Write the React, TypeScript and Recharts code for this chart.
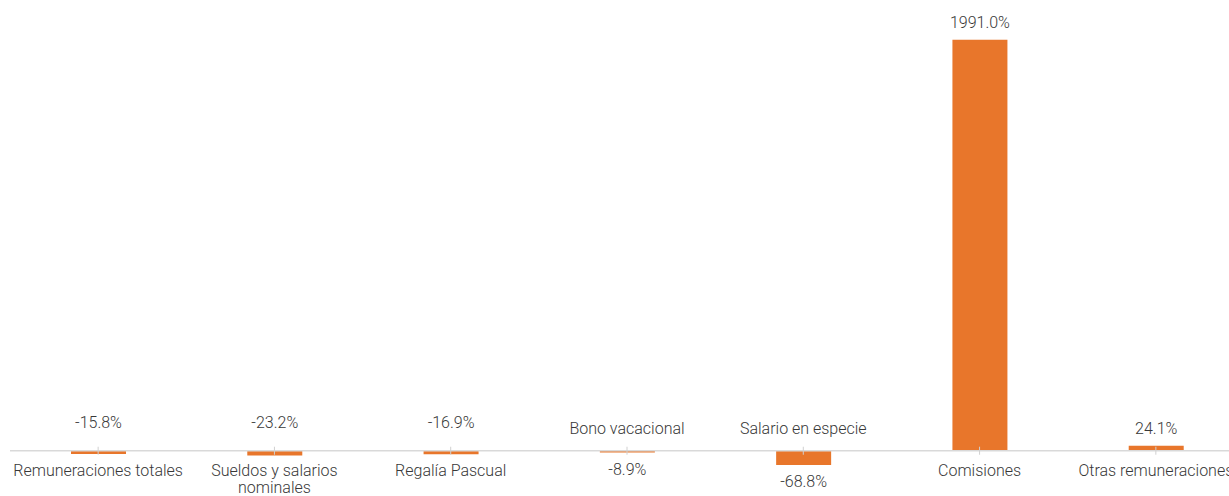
import { BarChart, Bar, XAxis, YAxis, ReferenceLine, LabelList } from 'recharts';

const categories = [
  'Remuneraciones totales',
  'Sueldos y salarios\nnominales',
  'Regalía Pascual',
  'Bono vacacional',
  'Salario en especie',
  'Comisiones',
  'Otras remuneraciones',
];
const variation = [-15.8, -23.2, -16.9, -8.9, -68.8, 1991.0, 24.1];

const data = categories.map((name, i) => ({ name, value: variation[i] }));

// layout constants (plot area)
const TOP = 38;
const BOTTOM = 492;
const Y_MIN = -200;
const Y_MAX = 2000;
const toY = (v: number) => TOP + ((Y_MAX - v) * (BOTTOM - TOP)) / (Y_MAX - Y_MIN);
const ZERO_Y = toY(0);

// which categories have their name drawn above the axis / value drawn below the bar
const nameAbove = new Set([3, 4]);
const valueBelow = new Set([3, 4]);

const TEXT = '#383838';
const FONT = 'Roboto, "Noto Sans", sans-serif';
const FS = 16;

function CategoryTick(props: any) {
  const { x, payload, index } = props;
  const lines = String(payload.value).split('\n');
  const above = nameAbove.has(index);
  return (
    <g>
      <line x1={x} x2={x} y1={ZERO_Y - 4} y2={ZERO_Y + 4} stroke="#d0d0d0" strokeWidth={1} />
      {lines.map((l, k) => (
        <text
          key={k}
          x={x}
          y={above ? ZERO_Y - 22 : ZERO_Y + 20 + k * 17}
          textAnchor="middle"
          dominantBaseline="central"
          fontFamily={FONT}
          fontWeight={300}
          fontSize={FS}
          fill={TEXT}
        >
          {l}
        </text>
      ))}
    </g>
  );
}

function ValueLabel(props: any) {
  const { x, width, value, index } = props;
  const v = Number(value);
  let y: number;
  if (v >= 0) y = toY(v) - 17;
  else if (valueBelow.has(index)) y = toY(v) + 17;
  else y = ZERO_Y - 28;
  return (
    <text
      x={x + width / 2}
      y={y}
      textAnchor="middle"
      dominantBaseline="central"
      fontFamily={FONT}
      fontWeight={300}
      fontSize={FS}
      fill={TEXT}
    >
      {v.toFixed(1) + '%'}
    </text>
  );
}

export default function App() {
  return (
    <div style={{ position: 'absolute', left: 0, top: 0, width: 1229, height: 496, overflow: 'hidden', background: '#fff' }}>
      <BarChart
        width={1250}
        height={496}
        data={data}
        margin={{ top: TOP, right: 6, bottom: 0, left: 10 }}
      >
        <YAxis hide type="number" domain={[Y_MIN, Y_MAX]} allowDataOverflow />
        <XAxis
          dataKey="name"
          height={4}
          axisLine={false}
          tickLine={false}
          interval={0}
          tick={<CategoryTick />}
        />
        <Bar dataKey="value" fill="#E8762B" barSize={55} isAnimationActive={false}>
          <LabelList dataKey="value" content={<ValueLabel />} />
        </Bar>
        <ReferenceLine y={0} stroke="#d9d9d9" strokeWidth={1.5} />
      </BarChart>
    </div>
  );
}
